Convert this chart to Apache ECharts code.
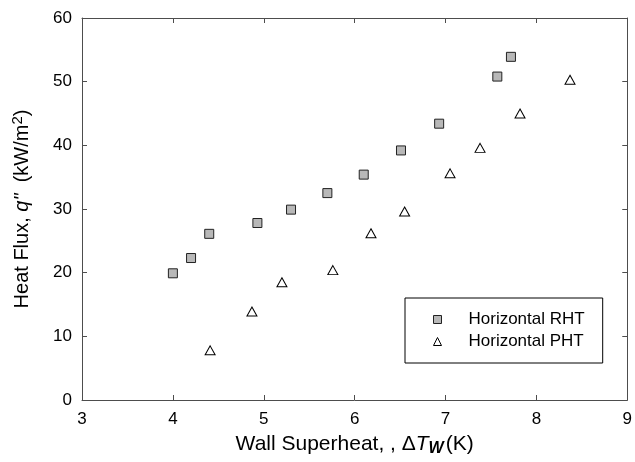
<!DOCTYPE html>
<html>
<head>
<meta charset="utf-8">
<script src="https://cdn.jsdelivr.net/npm/echarts@6/dist/echarts.min.js"></script>
<style>html,body{margin:0;padding:0;background:#fff}#c{width:635px;height:462px}</style>
</head>
<body>
<div id="c"></div>
<script>
const rhtX = [4.00, 4.20, 4.40, 4.93, 5.30, 5.70, 6.10, 6.51, 6.93, 7.57, 7.72];
const rhtY = [19.9, 22.3, 26.1, 27.8, 29.9, 32.5, 35.4, 39.2, 43.4, 50.8, 53.9];
const phtX = [4.41, 4.87, 5.20, 5.76, 6.18, 6.55, 7.05, 7.38, 7.82, 8.37];
const phtY = [7.8, 13.9, 18.5, 20.4, 26.2, 29.6, 35.6, 39.6, 45.0, 50.3];
const seriesNames = ['Horizontal RHT', 'Horizontal PHT'];
const xTicks = [3, 4, 5, 6, 7, 8, 9];
const yTicks = [0, 10, 20, 30, 40, 50, 60];

const FONT = '"Liberation Sans", Arial, Helvetica, sans-serif';
const axisColor = '#4d4d4d';
const chart = echarts.init(document.getElementById('c'), null, {renderer: 'canvas'});

const baseX = {
  type: 'value', min: xTicks[0], max: xTicks[xTicks.length - 1], interval: 1,
  splitLine: {show: false},
  axisLine: {show: true, onZero: false, lineStyle: {color: axisColor, width: 1}},
  axisTick: {show: true, inside: true, length: 5, lineStyle: {color: axisColor}}
};
const baseY = {
  type: 'value', min: yTicks[0], max: yTicks[yTicks.length - 1], interval: 10,
  splitLine: {show: false},
  axisLine: {show: true, onZero: false, lineStyle: {color: axisColor, width: 1}},
  axisTick: {show: true, inside: true, length: 5, lineStyle: {color: axisColor}}
};

chart.setOption({
  animation: false,
  backgroundColor: '#fff',
  textStyle: {fontFamily: FONT},
  grid: {left: 82, right: 7, top: 18, bottom: 61, containLabel: false},
  xAxis: [
    Object.assign({}, baseX, {
      position: 'bottom',
      axisLabel: {show: true, color: '#000', fontSize: 17, fontFamily: FONT, margin: 11},
      name: 'Wall Superheat, , {d|Δ}{t|T}{w|W}{k|(K)}',
      nameLocation: 'middle', nameGap: 31,
      nameTextStyle: {
        color: '#000', fontSize: 21, fontFamily: FONT,
        rich: {
          d: {fontSize: 21, fontFamily: FONT, color: '#000'},
          t: {fontSize: 21, fontFamily: FONT, fontStyle: 'italic', color: '#000'},
          w: {fontSize: 16, fontFamily: FONT, fontStyle: 'italic', fontWeight: 'bold', color: '#000', padding: [10, 2, 0, 0]},
          k: {fontSize: 21, fontFamily: FONT, color: '#000'}
        }
      }
    }),
    Object.assign({}, baseX, {position: 'top', axisLabel: {show: false}})
  ],
  yAxis: [
    Object.assign({}, baseY, {
      position: 'left',
      axisLabel: {show: true, color: '#000', fontSize: 17, fontFamily: FONT, margin: 10},
      name: 'Heat Flux, {q|q"}  (kW/m{s|2})',
      nameLocation: 'middle', nameGap: 48, nameRotate: 90,
      nameTextStyle: {
        color: '#000', fontSize: 20, fontFamily: FONT,
        rich: {
          q: {fontSize: 20, fontFamily: FONT, fontStyle: 'italic', color: '#000'},
          s: {fontSize: 15, fontFamily: FONT, color: '#000', padding: [0, 0, 9, 0]}
        }
      }
    }),
    Object.assign({}, baseY, {position: 'right', axisLabel: {show: false}})
  ],
  legend: {
    show: true,
    orient: 'vertical',
    left: 405, top: 298,
    padding: [13, 18, 13, 28],
    borderColor: '#000', borderWidth: 1,
    itemWidth: 8, itemHeight: 8, itemGap: 5,
    itemStyle: {borderWidth: 1},
    textStyle: {color: '#000', fontSize: 17, fontFamily: FONT, padding: [0, 0, 0, 22], lineHeight: 17},
    data: [
      {name: seriesNames[0], icon: 'rect', itemStyle: {color: '#b8b8b8', borderColor: '#222', borderWidth: 1}},
      {name: seriesNames[1], icon: 'triangle', itemStyle: {color: '#fff', borderColor: '#000', borderWidth: 1}}
    ]
  },
  series: [
    {
      name: seriesNames[0], type: 'scatter', xAxisIndex: 0, yAxisIndex: 0,
      symbol: 'rect', symbolSize: 9,
      itemStyle: {color: '#b8b8b8', borderColor: '#222', borderWidth: 1, opacity: 1},
      data: rhtX.map((x, i) => [x, rhtY[i]])
    },
    {
      name: seriesNames[1], type: 'scatter', xAxisIndex: 0, yAxisIndex: 0,
      symbol: 'triangle', symbolSize: [10, 9],
      itemStyle: {color: '#fff', borderColor: '#000', borderWidth: 1, opacity: 1},
      data: phtX.map((x, i) => [x, phtY[i]])
    }
  ]
});
</script>
</body>
</html>
